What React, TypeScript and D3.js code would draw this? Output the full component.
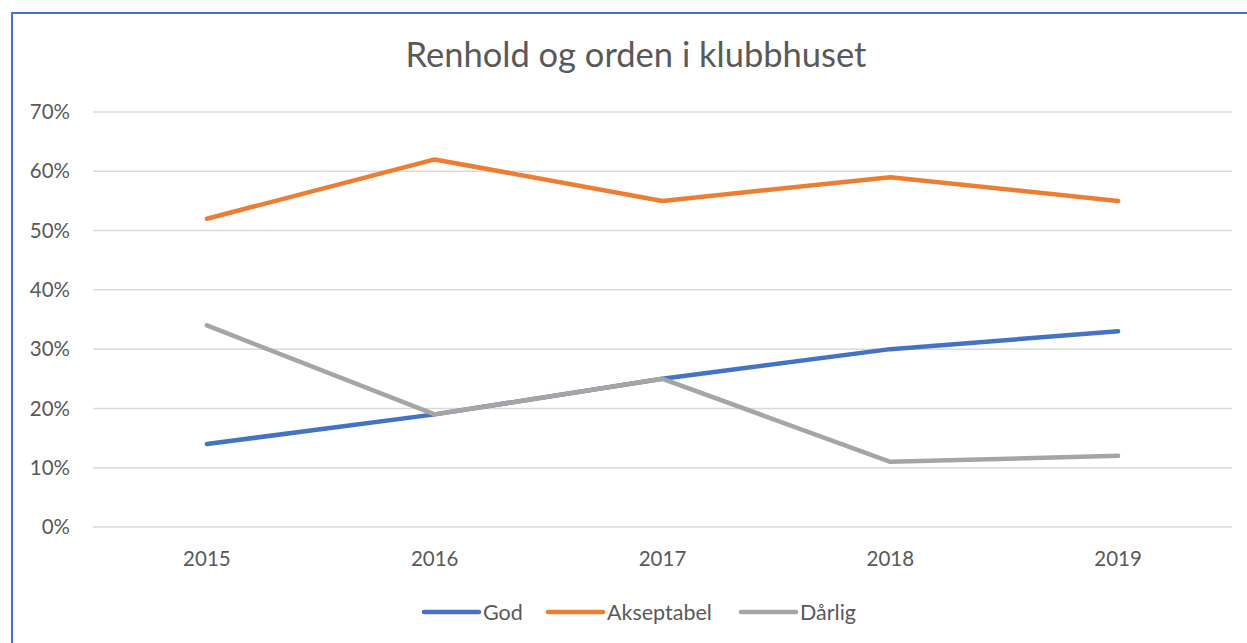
import React from "react";
import * as d3 from "d3";

const categories = ["2015", "2016", "2017", "2018", "2019"];
const god = [14, 19, 25, 30, 33];
const akseptabel = [52, 62, 55, 59, 55];
const darlig = [34, 19, 25, 11, 12];
const yTicks = [0, 10, 20, 30, 40, 50, 60, 70];
const seriesNames = ["God", "Akseptabel", "Dårlig"];
const seriesColors = ["#4472C4", "#ED7D31", "#A5A5A5"];

const W = 1247;
const H = 643;
const FONT = "Lato, 'Open Sans', sans-serif";
const TEXT = "#595959";

export default function App() {
  const left = 93, right = 1232, top = 112, bottom = 527;
  const x = d3.scaleBand<string>().domain(categories).range([left, right]);
  const y = d3.scaleLinear().domain([0, 70]).range([bottom, top]);
  const line = d3
    .line<number>()
    .x((_, i) => (x(categories[i]) as number) + x.bandwidth() / 2)
    .y((d) => y(d));
  const series = [god, akseptabel, darlig];
  const legendItems = [
    { lx: 424, tx: 483 },
    { lx: 548, tx: 607 },
    { lx: 741, tx: 800 },
  ];
  return (
    <svg
      width={W}
      height={H}
      style={{ position: "absolute", left: 0, top: 0, background: "#fff" }}
      fontFamily={FONT}
    >
      <rect x={0} y={0} width={W} height={H} fill="#fff" />
      <rect x={12} y={13} width={W + 20} height={H + 20} fill="none" stroke="#4472C4" strokeWidth={2} />
      <text x={636} y={67} textAnchor="middle" fontSize={34.5} fill={TEXT}>
        Renhold og orden i klubbhuset
      </text>
      {yTicks.map((t) => (
        <g key={t}>
          <line x1={left} x2={right} y1={y(t)} y2={y(t)} stroke="#D9D9D9" strokeWidth={1.5} />
          <text x={70} y={y(t)} dy="0.35em" textAnchor="end" fontSize={20.5} fill={TEXT}>
            {t}%
          </text>
        </g>
      ))}
      {categories.map((c) => (
        <text
          key={c}
          x={(x(c) as number) + x.bandwidth() / 2}
          y={559}
          dy="0.35em"
          textAnchor="middle"
          fontSize={20.5}
          fill={TEXT}
        >
          {c}
        </text>
      ))}
      {series.map((s, i) => (
        <path
          key={i}
          d={line(s) as string}
          fill="none"
          stroke={seriesColors[i]}
          strokeWidth={4.5}
          strokeLinejoin="round"
          strokeLinecap="round"
        />
      ))}
      {seriesNames.map((n, i) => (
        <g key={n}>
          <line
            x1={legendItems[i].lx}
            x2={legendItems[i].lx + 55}
            y1={612}
            y2={612}
            stroke={seriesColors[i]}
            strokeWidth={4.5}
            strokeLinecap="round"
          />
          <text x={legendItems[i].tx} y={612} dy="0.35em" fontSize={21.5} fill={TEXT}>
            {n}
          </text>
        </g>
      ))}
    </svg>
  );
}
